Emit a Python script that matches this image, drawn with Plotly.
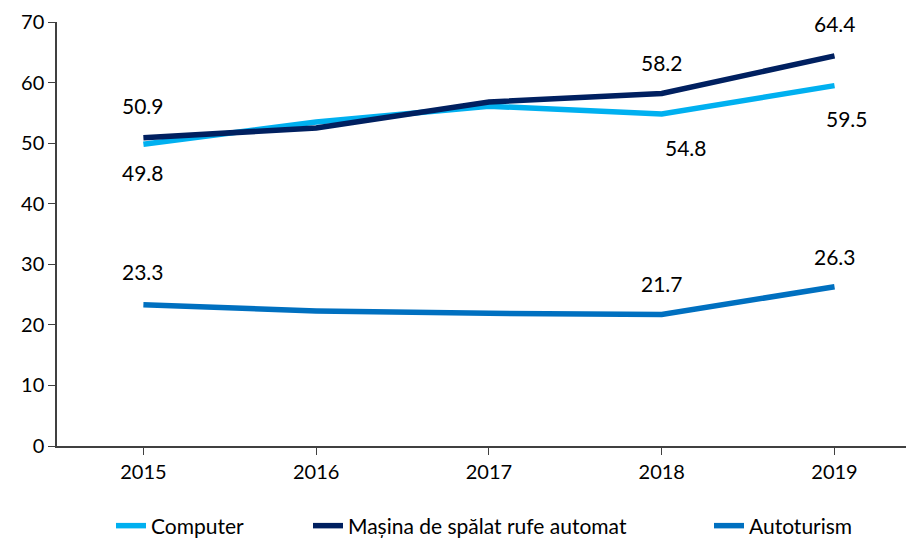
import plotly.graph_objects as go

years = ["2015", "2016", "2017", "2018", "2019"]
computer = [49.8, 53.5, 56.1, 54.8, 59.5]
masina = [50.9, 52.5, 56.8, 58.2, 64.4]
autoturism = [23.3, 22.3, 21.9, 21.7, 26.3]

names = ["Computer", "Mașina de spălat rufe automat", "Autoturism"]
colors = ["#00B0F0", "#002060", "#0070C0"]
series = [computer, masina, autoturism]
legend_ids = ["legend", "legend2", "legend3"]
legend_x = [103, 300, 701]  # left edge of each legend entry (px, figure coords)

FONT = "Lato"
W, H = 906, 532

fig = go.Figure()
for name, vals, col, lg in zip(names, series, colors, legend_ids):
    fig.add_trace(go.Scatter(x=list(range(len(years))), y=vals, mode="lines", name=name,
                             legend=lg, line=dict(color=col, width=5.5)))

# labels: (series index, point index, xshift, yshift)
label_spec = [
    (1, 0, 0, 32), (1, 3, 0, 31), (1, 4, 0, 32),
    (0, 0, 0, -28), (0, 3, 24, -33), (0, 4, 12, -33),
    (2, 0, 0, 33), (2, 3, 0, 31), (2, 4, 0, 30),
]
for si, pi, xs, ys in label_spec:
    v = series[si][pi]
    fig.add_annotation(x=pi, y=v, xref="x", yref="y", text=f"{v:.1f}", showarrow=False,
                       xshift=xs, yshift=ys,
                       font=dict(family=FONT, size=21, color="#000000"))

legend_common = dict(orientation="h", xanchor="left", xref="container",
                     yref="container", yanchor="middle", y=14 / H,
                     font=dict(family=FONT, size=21), bgcolor="rgba(0,0,0,0)")
fig.update_layout(
    width=W, height=H,
    margin=dict(l=49, r=0, t=14, b=94, autoexpand=False),
    plot_bgcolor="white", paper_bgcolor="white",
    font=dict(family=FONT, size=20, color="#000000"),
    showlegend=True,
    legend=dict(x=legend_x[0] / W, **legend_common),
    legend2=dict(x=legend_x[1] / W, **legend_common),
    legend3=dict(x=legend_x[2] / W, **legend_common),
    xaxis=dict(tickmode="array", tickvals=list(range(len(years))), ticktext=years,
               range=[-0.5, 4.46], showline=True, linecolor="#404040",
               linewidth=1.5, ticks="outside", ticklen=7, tickcolor="#404040",
               showgrid=False, zeroline=False, tickfont=dict(family=FONT, size=20)),
    yaxis=dict(range=[0, 70], dtick=10, showline=True, linecolor="#404040",
               linewidth=1.5, ticks="outside", ticklen=7, tickcolor="#404040",
               showgrid=False, zeroline=False, tickfont=dict(family=FONT, size=20)),
)

fig.write_html("out.html")
